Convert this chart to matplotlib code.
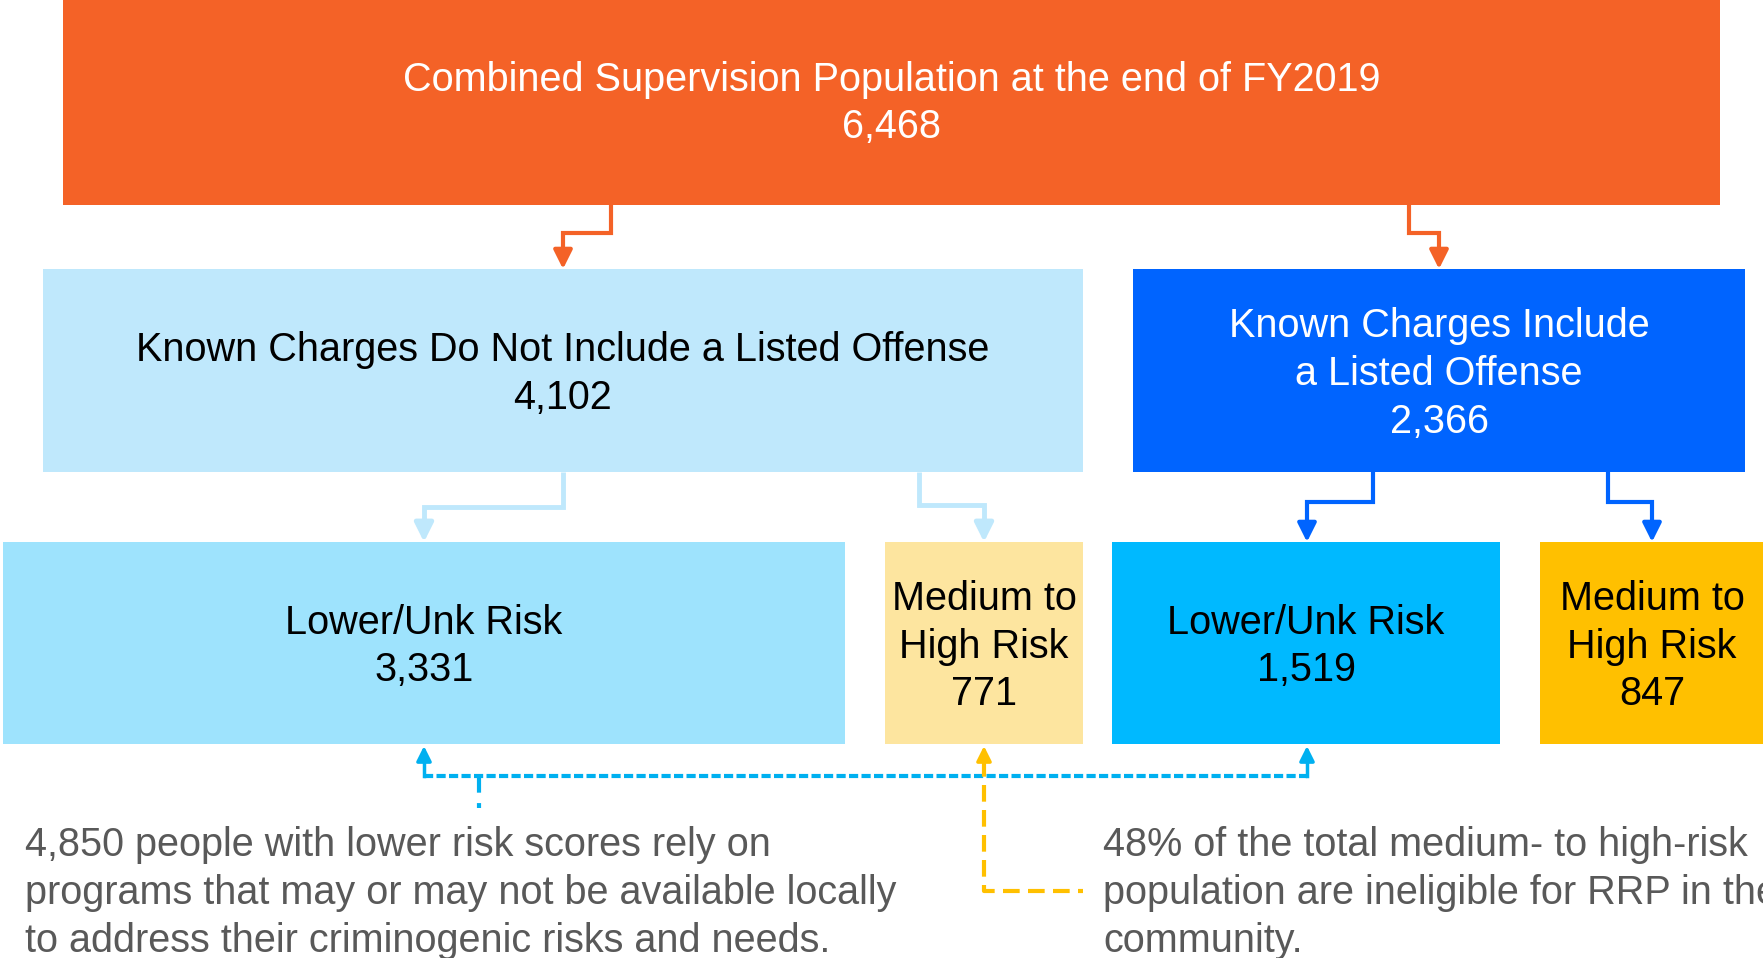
import matplotlib.pyplot as plt
from matplotlib.patches import Rectangle

# --- data -------------------------------------------------------------
total_label = "Combined Supervision Population at the end of FY2019"
total_count = 6468
group_labels = ["Known Charges Do Not Include a Listed Offense",
                "Known Charges Include\na Listed Offense"]
group_counts = [4102, 2366]
risk_labels = ["Lower/Unk Risk", "Medium to\nHigh Risk",
               "Lower/Unk Risk", "Medium to\nHigh Risk"]
risk_counts = [3331, 771, 1519, 847]
note_left = ("4,850 people with lower risk scores rely on\n"
             "programs that may or may not be available locally\n"
             "to address their criminogenic risks and needs.")
note_right = ("48% of the total medium- to high-risk\n"
              "population are ineligible for RRP in the\n"
              "community.")

# --- layout (pixels, y down) -----------------------------------------
ORANGE = "#F46227"
TOP_BOX = (63, 0, 1720, 205)
GROUP_BOXES = [(43, 269, 1083, 472), (1133, 269, 1745, 472)]
GROUP_COLORS = ["#BFE8FC", "#0064FF"]
GROUP_TEXT = ["black", "white"]
RISK_BOXES = [(3, 542, 845, 744), (885, 542, 1083, 744),
              (1112, 542, 1500, 744), (1540, 542, 1800, 744)]
RISK_COLORS = ["#9EE3FD", "#FDE59F", "#00B9FF", "#FFC000"]
FONT = "Liberation Sans"
FS = 28.5
LS = 1.33

fig = plt.figure(figsize=(17.63, 9.58), dpi=100)
ax = fig.add_axes([0, 0, 1, 1])
ax.set_xlim(0, 1763)
ax.set_ylim(958, 0)
ax.axis("off")


def box(rect, color, text, tcolor, dy=3.5):
    x0, y0, x1, y1 = rect
    ax.add_patch(Rectangle((x0, y0), x1 - x0, y1 - y0, color=color, lw=0))
    cx = (x0 + x1) / 2 if x1 <= 1763 else 1652
    ax.text(cx, (y0 + y1) / 2 + dy, text, ha="center", va="center",
            color=tcolor, fontsize=FS, family=FONT, linespacing=LS)


def elbow(x0, y0, ymid, x1, y1, color, lw=3):
    ax.plot([x0, x0, x1, x1], [y0, ymid, ymid, y1 - 14], color=color,
            lw=lw, solid_joinstyle="miter", solid_capstyle="butt")
    ax.annotate("", xy=(x1, y1), xytext=(x1, y1 - 16),
                arrowprops=dict(arrowstyle="-|>", color=color, lw=lw,
                                mutation_scale=28, shrinkA=0, shrinkB=0))


box(TOP_BOX, ORANGE, f"{total_label}\n{total_count:,}", "white", dy=1)
for rect, col, tcol, lab, n in zip(GROUP_BOXES, GROUP_COLORS, GROUP_TEXT,
                                   group_labels, group_counts):
    box(rect, col, f"{lab}\n{n:,}", tcol)
for rect, col, lab, n in zip(RISK_BOXES, RISK_COLORS, risk_labels, risk_counts):
    box(rect, col, f"{lab}\n{n:,}", "black")

# connectors
elbow(611, 205, 233, 563, 269, ORANGE)
elbow(1409, 205, 233, 1439, 269, ORANGE)
elbow(563, 472, 507, 424, 542, "#BFE8FC", lw=3.5)
elbow(919, 472, 505, 984, 542, "#BFE8FC", lw=3.5)
elbow(1373, 472, 502, 1307, 542, "#0064FF")
elbow(1608, 472, 502, 1652, 542, "#0064FF")

# dashed callouts
CYAN = "#00B0F0"
GOLD = "#FFC000"
ax.plot([424, 1307], [776, 776], color=CYAN, lw=3, ls=(0, (2.2, 0.8)))
ax.plot([479, 479], [776, 808], color=CYAN, lw=3, ls=(0, (4, 2.5)))
for x in (424, 1307):
    ax.plot([x, x], [776, 760], color=CYAN, lw=2.5)
    ax.annotate("", xy=(x, 746), xytext=(x, 762),
                arrowprops=dict(arrowstyle="-|>", color=CYAN, lw=2.5,
                                mutation_scale=22, shrinkA=0, shrinkB=0))
ax.plot([984, 984, 1083], [760, 891, 891], color=GOLD, lw=3,
        ls=(0, (4, 2)))
ax.annotate("", xy=(984, 746), xytext=(984, 762),
            arrowprops=dict(arrowstyle="-|>", color=GOLD, lw=2.5,
                            mutation_scale=22, shrinkA=0, shrinkB=0))

# notes (they run off the right/bottom edge, as in the original graphic)
for x, note in ((25, note_left), (1103, note_right)):
    ax.text(x, 826, note, ha="left", va="top", color="#595959",
            fontsize=FS, family=FONT, linespacing=LS)

fig.savefig("out.png", dpi=100)
